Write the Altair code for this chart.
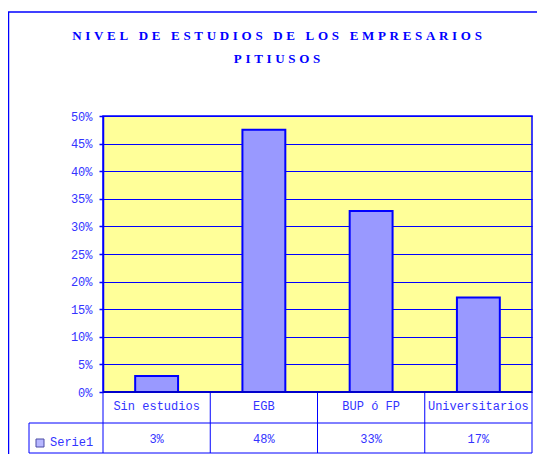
import altair as alt
import pandas as pd

# ---- data ----
categories = ["Sin estudios", "EGB", "BUP ó FP", "Universitarios"]
values = [0.029, 0.475, 0.328, 0.171]
value_labels = ["3%", "48%", "33%", "17%"]
series_name = "Serie1"
y_ticks = [0, 0.05, 0.10, 0.15, 0.20, 0.25, 0.30, 0.35, 0.40, 0.45, 0.50]
title_lines = ["NIVEL DE ESTUDIOS DE LOS EMPRESARIOS", "PITIUSOS"]

df = pd.DataFrame({"cat": categories, "val": values, "lab": value_labels})

W, H = 429, 276
BLUE = "#0000FF"
TXT = "#3333FF"
BAR = "#9999FF"
MONO = "Liberation Mono"

xenc = alt.X("cat:N", sort=categories, axis=None,
             scale=alt.Scale(paddingInner=0.6, paddingOuter=0.3))

base = alt.Chart(df)

bars = base.mark_bar(fill=BAR, stroke=BLUE, strokeWidth=2).encode(
    x=xenc,
    y=alt.Y("val:Q", scale=alt.Scale(domain=[0, 0.5], nice=False),
            axis=alt.Axis(values=y_ticks, format=".0%", title=None,
                          grid=True, gridColor=BLUE, gridWidth=1,
                          domainColor=BLUE, domainWidth=1.5,
                          tickColor=BLUE, tickSize=4, tickWidth=1.5,
                          labelColor=TXT, labelFont=MONO, labelFontSize=12,
                          labelPadding=7)),
)

cat_text = base.mark_text(font=MONO, fontSize=12, color=TXT, baseline="middle").encode(
    x=xenc, y=alt.value(290), text="cat:N")
val_text = base.mark_text(font=MONO, fontSize=12, color=TXT, baseline="middle").encode(
    x=xenc, y=alt.value(323), text="lab:N")

one = pd.DataFrame({"t": [series_name]})
legend_sq = alt.Chart(one).mark_square(size=64, fill=BAR, stroke="#000080", strokeWidth=1).encode(
    x=alt.value(-63), y=alt.value(327))
legend_tx = alt.Chart(one).mark_text(font=MONO, fontSize=12, color=TXT, align="left",
                                     baseline="middle").encode(
    x=alt.value(-53), y=alt.value(326), text="t:N")

SP = "\u2009\u200a"
tdf = pd.DataFrame({"t": [SP.join(s) for s in title_lines]})
title1 = alt.Chart(tdf.iloc[[0]]).mark_text(font="Liberation Serif", fontSize=13, fontWeight="bold",
                                            color=BLUE, align="center", baseline="middle").encode(
    x=alt.value(174), y=alt.value(-80), text="t:N")
title2 = alt.Chart(tdf.iloc[[1]]).mark_text(font="Liberation Serif", fontSize=13, fontWeight="bold",
                                            color=BLUE, align="center", baseline="middle").encode(
    x=alt.value(174), y=alt.value(-57), text="t:N")


def rule(x1, x2, y1, y2, w=1.0, color=BLUE):
    return alt.Chart(one).mark_rule(color=color, strokeWidth=w).encode(
        x=alt.value(x1), x2=alt.value(x2), y=alt.value(y1), y2=alt.value(y2))


step = W / len(categories)
rules = [rule(step * i, step * i, H, H + 61) for i in range(len(categories) + 1)]
rules += [
    rule(-74, -74, H + 31, H + 61),
    rule(-74, W, H + 31, H + 31),
    rule(-74, W, H + 61, H + 61),
    rule(0, W, H, H, w=2, color="#0000CC"),
    # outer chart border
    rule(-94.5, -94.5, -104, H + 62, w=1.5),
    rule(-95, 434, -104, -104, w=1.5),
]

chart = alt.layer(bars, cat_text, val_text, legend_sq, legend_tx, title1, title2, *rules).properties(
    width=W, height=H,
    autosize=alt.AutoSizeParams(type="none"),
    padding={"left": 95, "top": 108, "right": 5, "bottom": 62},
    background="white",
).configure_view(fill="#FFFF99", stroke=BLUE, strokeWidth=1.5)

chart.save("out.html", embed_options={"renderer": "svg", "actions": False})
